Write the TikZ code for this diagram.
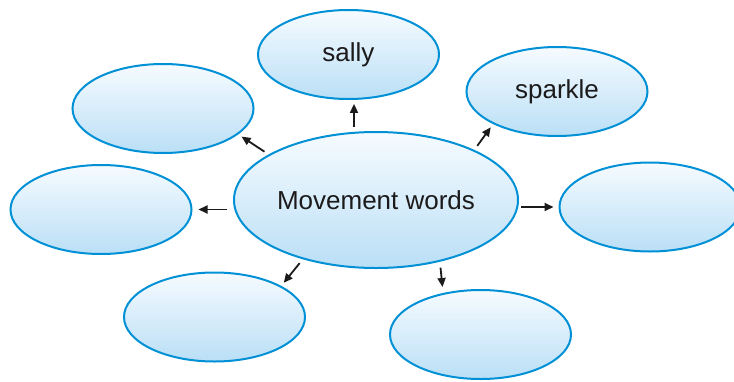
\documentclass[tikz,border=0pt]{standalone}
\usepackage{fontspec}
\setmainfont{Liberation Sans}
\usetikzlibrary{shapes.geometric,arrows.meta}

\definecolor{rim}{RGB}{0,144,214}
\definecolor{filltop}{RGB}{246,251,255}
\definecolor{fillbot}{RGB}{186,223,246}
\definecolor{ink}{RGB}{28,26,26}

\tikzset{
  bubble/.style={ellipse, draw=rim, line width=2pt,
    top color=filltop, bottom color=fillbot,
    minimum width=181pt, minimum height=89pt, inner sep=0pt,
    text=ink, font=\fontsize{26}{30}\selectfont},
  hub/.style={bubble, minimum width=284pt, minimum height=136pt},
  arr/.style={-{Triangle[length=9pt,width=8pt]}, line width=1.8pt, draw=ink,
    shorten <=5pt, shorten >=4pt},
}

\begin{document}
\begin{tikzpicture}[x=1pt,y=-1pt]
\useasboundingbox (0,0) rectangle (734,381);
\clip (0,0) rectangle (734,381);

% central idea
\node[hub] (c) at (376,200) {Movement words};

% surrounding bubbles
\node[bubble] (sally)   at (348.5,54.5) {sally};
\node[bubble] (sparkle) at (557,91.5)   {sparkle};
\node[bubble] (tl)      at (163,108.5)  {};
\node[bubble] (lf)      at (101,209.5)  {};
\node[bubble] (rt)      at (650,207)    {};
\node[bubble] (bl)      at (214.5,317)  {};
\node[bubble] (br)      at (480.5,334.5){};

% arrows from the centre outwards
\draw[arr] (c.108) -- (sally.277);
\draw[arr] (c.27)  -- (sparkle.207);
\draw[arr, shorten <=2pt, shorten >=5pt] (rt.west -| c.east) -- (rt.west);
\draw[arr, shorten <=6pt, shorten >=6pt] (lf.east -| c.west) -- (lf.east);
\draw[arr] (c.157) -- (tl.-19);
\draw[arr] (c.219) -- (bl.25);
\draw[arr, shorten <=6pt, shorten >=6pt] (c.-44) -- (br.132);

\end{tikzpicture}
\end{document}
